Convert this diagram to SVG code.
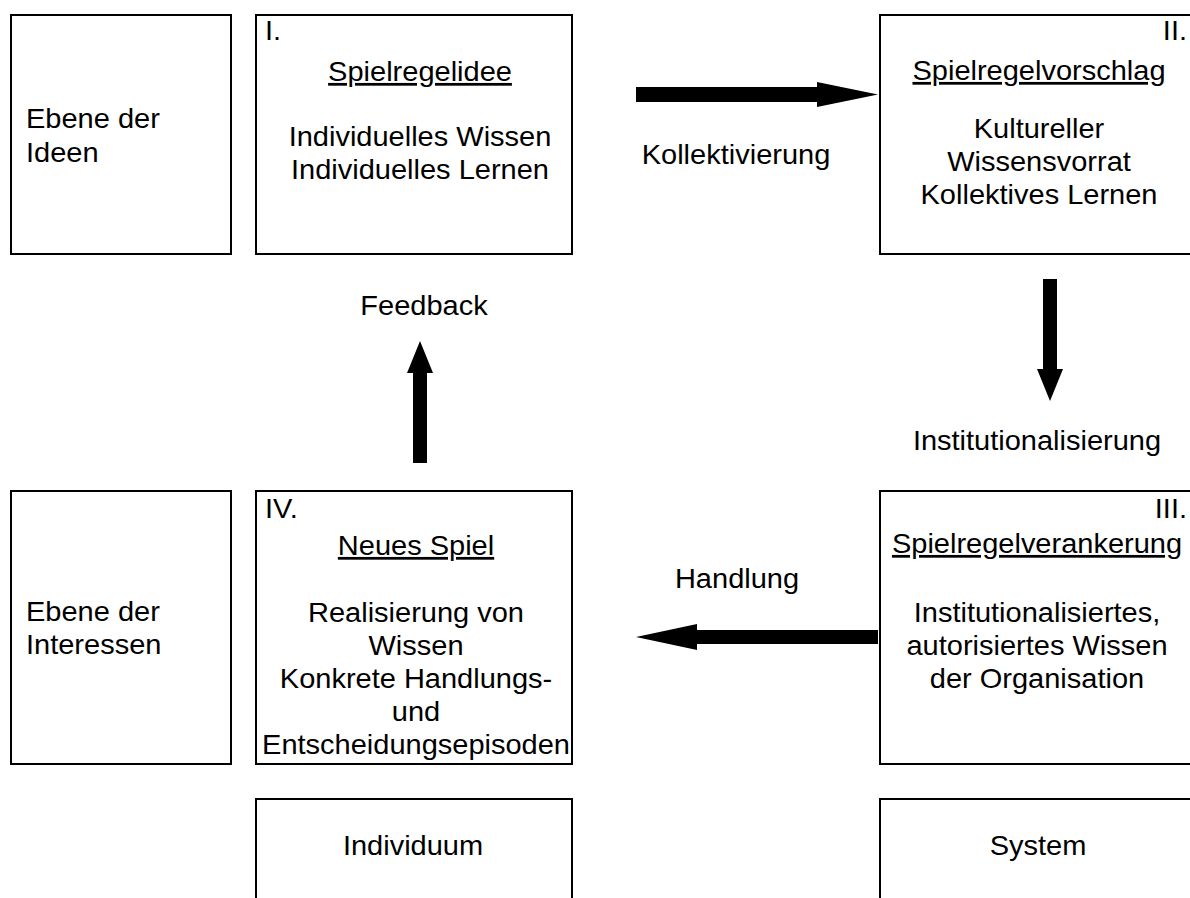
<svg xmlns="http://www.w3.org/2000/svg" width="1190" height="898" viewBox="0 0 1190 898">
  <style>
    .box { fill: #ffffff; stroke: #000000; stroke-width: 2; }
    .t { font-family: "Liberation Sans", Arial, sans-serif; font-size: 27.5px; fill: #000000; }
    .c { text-anchor: middle; }
    .e { text-anchor: end; }
    .u { text-decoration: underline; }
    .arrow { fill: #000000; stroke: none; }
  </style>
  <rect width="1190" height="898" fill="#ffffff"/>

  <!-- row 1 -->
  <g id="ebene-ideen">
    <rect class="box" x="11" y="15" width="220" height="239"/>
    <g transform="translate(26 0) scale(1.055 1)">
      <text class="t" x="0" y="128">Ebene der</text>
      <text class="t" x="0" y="162">Ideen</text>
    </g>
  </g>

  <g id="spielregelidee">
    <rect class="box" x="256" y="15" width="316" height="239"/>
    <g transform="translate(265 0) scale(1.055 1)">
      <text class="t" x="0" y="40">I.</text>
    </g>
    <g transform="translate(420 0) scale(1.055 1)">
      <text class="t c u" x="0" y="81">Spielregelidee</text>
      <text class="t c" x="0" y="146">Individuelles Wissen</text>
      <text class="t c" x="0" y="179">Individuelles Lernen</text>
    </g>
  </g>

  <g id="spielregelvorschlag">
    <rect class="box" x="880" y="15" width="330" height="239"/>
    <g transform="translate(1187 0) scale(1.055 1)">
      <text class="t e" x="0" y="40">II.</text>
    </g>
    <g transform="translate(1039 0) scale(1.055 1)">
      <text class="t c u" x="0" y="80">Spielregelvorschlag</text>
      <text class="t c" x="0" y="138">Kultureller</text>
      <text class="t c" x="0" y="171">Wissensvorrat</text>
      <text class="t c" x="0" y="204">Kollektives Lernen</text>
    </g>
  </g>

  <!-- row 2 -->
  <g id="ebene-interessen">
    <rect class="box" x="11" y="491" width="220" height="273"/>
    <g transform="translate(26 0) scale(1.055 1)">
      <text class="t" x="0" y="621">Ebene der</text>
      <text class="t" x="0" y="654">Interessen</text>
    </g>
  </g>

  <g id="neues-spiel">
    <rect class="box" x="256" y="491" width="316" height="273"/>
    <g transform="translate(265 0) scale(1.055 1)">
      <text class="t" x="0" y="518">IV.</text>
    </g>
    <g transform="translate(416 0) scale(1.055 1)">
      <text class="t c u" x="0" y="555">Neues Spiel</text>
      <text class="t c" x="0" y="622">Realisierung von</text>
      <text class="t c" x="0" y="655">Wissen</text>
      <text class="t c" x="0" y="688">Konkrete Handlungs-</text>
      <text class="t c" x="0" y="721">und</text>
      <text class="t c" x="0" y="754">Entscheidungsepisoden</text>
    </g>
  </g>

  <g id="spielregelverankerung">
    <rect class="box" x="880" y="491" width="330" height="273"/>
    <g transform="translate(1187 0) scale(1.055 1)">
      <text class="t e" x="0" y="518">III.</text>
    </g>
    <g transform="translate(1037 0) scale(1.055 1)">
      <text class="t c u" x="0" y="553">Spielregelverankerung</text>
      <text class="t c" x="0" y="622">Institutionalisiertes,</text>
      <text class="t c" x="0" y="655">autorisiertes Wissen</text>
      <text class="t c" x="0" y="688">der Organisation</text>
    </g>
  </g>

  <!-- row 3 -->
  <g id="individuum">
    <rect class="box" x="256" y="799" width="316" height="120"/>
    <g transform="translate(413 0) scale(1.055 1)">
      <text class="t c" x="0" y="855">Individuum</text>
    </g>
  </g>

  <g id="system">
    <rect class="box" x="880" y="799" width="330" height="120"/>
    <g transform="translate(1038 0) scale(1.055 1)">
      <text class="t c" x="0" y="855">System</text>
    </g>
  </g>

  <!-- connectors: block arrows with their labels -->
  <g id="connectors">
    <g id="kollektivierung">
      <rect class="arrow" x="636" y="87" width="182" height="15"/>
      <polygon class="arrow" points="817,82 878,94.5 817,107"/>
      <g transform="translate(736 0) scale(1.055 1)">
        <text class="t c" x="0" y="164">Kollektivierung</text>
      </g>
    </g>
    <g id="institutionalisierung">
      <rect class="arrow" x="1043" y="279" width="14" height="91"/>
      <polygon class="arrow" points="1037,369 1063,369 1050,401"/>
      <g transform="translate(1037 0) scale(1.055 1)">
        <text class="t c" x="0" y="450">Institutionalisierung</text>
      </g>
    </g>
    <g id="handlung">
      <rect class="arrow" x="696" y="630" width="182" height="14"/>
      <polygon class="arrow" points="697,624 697,650 636,637"/>
      <g transform="translate(737 0) scale(1.055 1)">
        <text class="t c" x="0" y="588">Handlung</text>
      </g>
    </g>
    <g id="feedback">
      <rect class="arrow" x="413" y="372" width="14" height="91"/>
      <polygon class="arrow" points="407,373 433,373 420,341"/>
      <g transform="translate(424 0) scale(1.055 1)">
        <text class="t c" x="0" y="315">Feedback</text>
      </g>
    </g>
  </g>
</svg>
